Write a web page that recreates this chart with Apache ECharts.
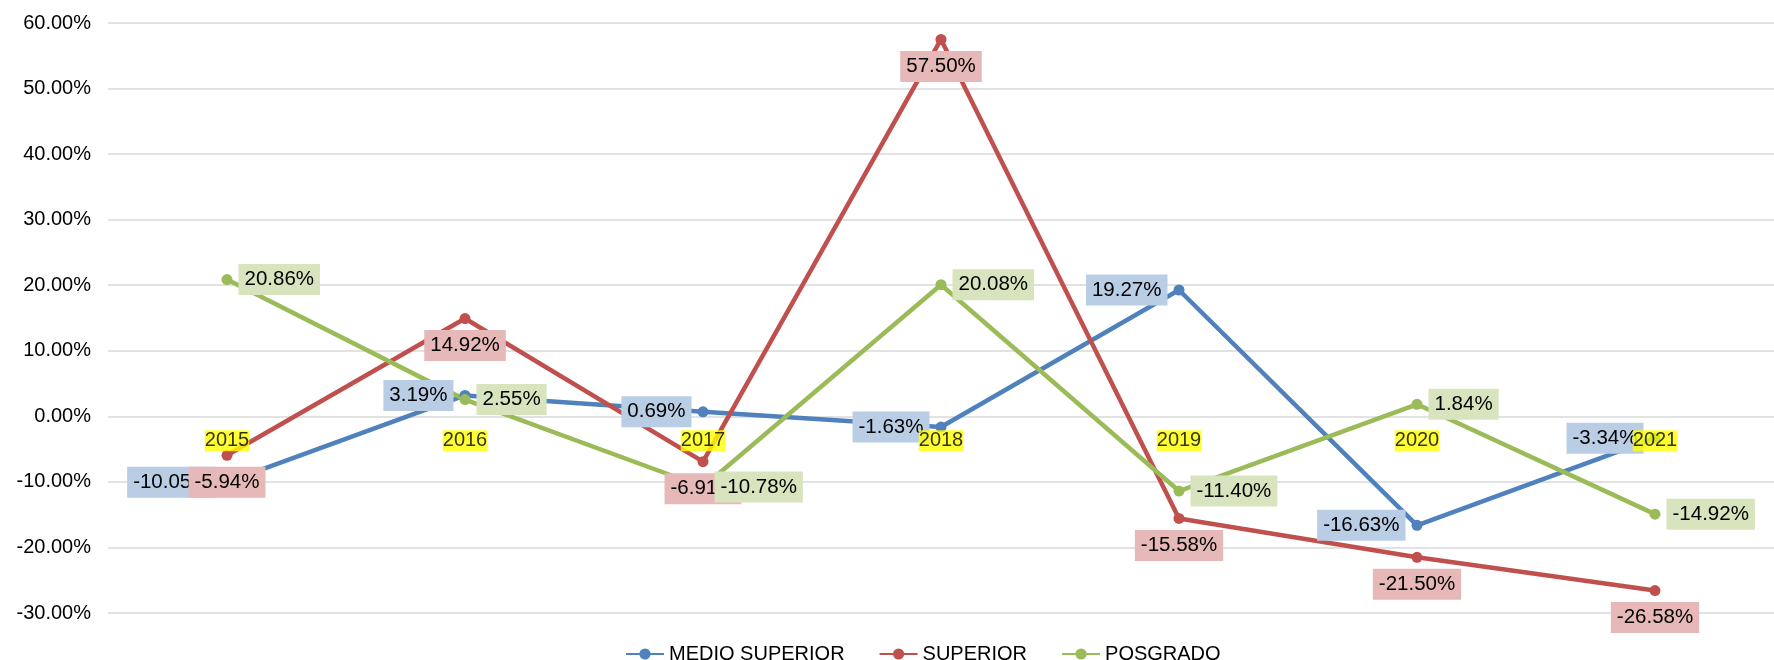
<!DOCTYPE html>
<html>
<head>
<meta charset="utf-8">
<title>Variación por nivel</title>
<script src="https://cdn.jsdelivr.net/npm/echarts@6/dist/echarts.min.js"></script>
<style>
  html, body { margin: 0; padding: 0; background: #fff; }
  #chart { width: 1774px; height: 660px; }
</style>
</head>
<body>
<div id="chart"></div>
<script>
// data (percent)
const years = ["2015", "2016", "2017", "2018", "2019", "2020", "2021"];
const medioSuperior = [-10.05, 3.19, 0.69, -1.63, 19.27, -16.63, -3.34];
const superior = [-5.94, 14.92, -6.91, 57.50, -15.58, -21.50, -26.58];
const posgrado = [20.86, 2.55, -10.78, 20.08, -11.40, 1.84, -14.92];

const FONT = "Liberation Sans, Arial, sans-serif";
const pct = (v) => Number(v).toFixed(2) + "%";

// one line series, label placed on a side with a tinted box
function lineSeries(name, data, color, labelBg, pos) {
  return {
    name: name,
    type: "line",
    data: data,
    symbol: "circle",
    symbolSize: 11,
    lineStyle: { color: color, width: 4.5 },
    itemStyle: { color: color },
    label: {
      show: true,
      position: pos,
      distance: 6,
      formatter: (p) => pct(p.value),
      color: "#000",
      fontFamily: FONT,
      fontSize: 20.5,
      backgroundColor: labelBg,
      padding: [5, 6, 5, 6]
    },
    emphasis: { disabled: true }
  };
}

const chart = echarts.init(document.getElementById("chart"));

chart.setOption({
  animation: false,
  backgroundColor: "#fff",
  textStyle: { fontFamily: FONT },
  grid: { left: 108, right: -20, top: 23, bottom: 47 },
  legend: {
    left: 620,
    top: 639,
    itemWidth: 38,
    itemHeight: 14,
    itemGap: 34,
    textStyle: { fontSize: 20, color: "#000", fontFamily: FONT },
    data: ["MEDIO SUPERIOR", "SUPERIOR", "POSGRADO"]
  },
  xAxis: {
    type: "category",
    data: years,
    boundaryGap: true,
    axisLine: { show: false },
    axisTick: { show: false },
    axisLabel: { show: false },
    splitLine: { show: false }
  },
  yAxis: {
    type: "value",
    min: -30,
    max: 60,
    interval: 10,
    axisLine: { show: false },
    axisTick: { show: false },
    axisLabel: {
      margin: 17,
      color: "#000",
      fontSize: 20,
      fontFamily: FONT,
      formatter: (v) => pct(v)
    },
    splitLine: { lineStyle: { color: "#d9d9d9", width: 1.5 } }
  },
  series: [
    lineSeries("MEDIO SUPERIOR", medioSuperior, "#4f81bd", "#b9cde5", "left"),
    lineSeries("SUPERIOR", superior, "#c0504d", "#e6b9b8", "bottom"),
    lineSeries("POSGRADO", posgrado, "#9bbb59", "#d7e4bd", "right"),
    {
      // category names hang just under the 0% line, highlighted in yellow
      name: "years",
      type: "scatter",
      z: 10,
      symbolSize: 0,
      silent: true,
      data: years.map((y) => [y, 0]),
      label: {
        show: true,
        position: "bottom",
        distance: 14,
        formatter: (p) => p.value[0],
        color: "#000",
        fontFamily: FONT,
        fontSize: 20,
        lineHeight: 21,
        backgroundColor: "#ffff00",
        padding: 0
      }
    }
  ]
});
</script>
</body>
</html>
